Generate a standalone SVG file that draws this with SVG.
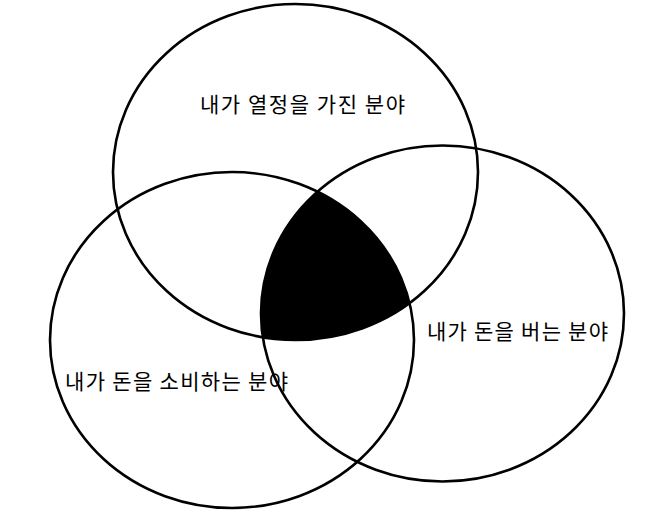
<svg xmlns="http://www.w3.org/2000/svg" width="666" height="521" viewBox="0 0 666 521">
<style>
.c{fill:none;stroke:#000;stroke-width:2.6}
.t{font-family:"Noto Sans CJK KR","Noto Sans",sans-serif;font-size:21px;fill:#000}
</style>
<defs>
<clipPath id="cL"><ellipse cx="232" cy="340" rx="182" ry="168"/></clipPath>
<clipPath id="cR"><ellipse cx="442.5" cy="313.5" rx="181.5" ry="168"/></clipPath>
</defs>
<rect width="666" height="521" fill="#fff"/>
<g id="intersection" clip-path="url(#cR)">
<g clip-path="url(#cL)">
<ellipse cx="295.5" cy="172" rx="182.5" ry="168" fill="#000"/>
</g>
</g>
<g id="top">
<ellipse class="c" cx="295.5" cy="172" rx="182.5" ry="168"/>
<text class="t" x="200" y="112" textLength="205" lengthAdjust="spacing">내가 열정을 가진 분야</text>
</g>
<g id="left">
<ellipse class="c" cx="232" cy="340" rx="182" ry="168"/>
<text class="t" x="65" y="389" textLength="223" lengthAdjust="spacing">내가 돈을 소비하는 분야</text>
</g>
<g id="right">
<ellipse class="c" cx="442.5" cy="313.5" rx="181.5" ry="168"/>
<text class="t" x="427" y="339" textLength="181" lengthAdjust="spacing">내가 돈을 버는 분야</text>
</g>
</svg>
